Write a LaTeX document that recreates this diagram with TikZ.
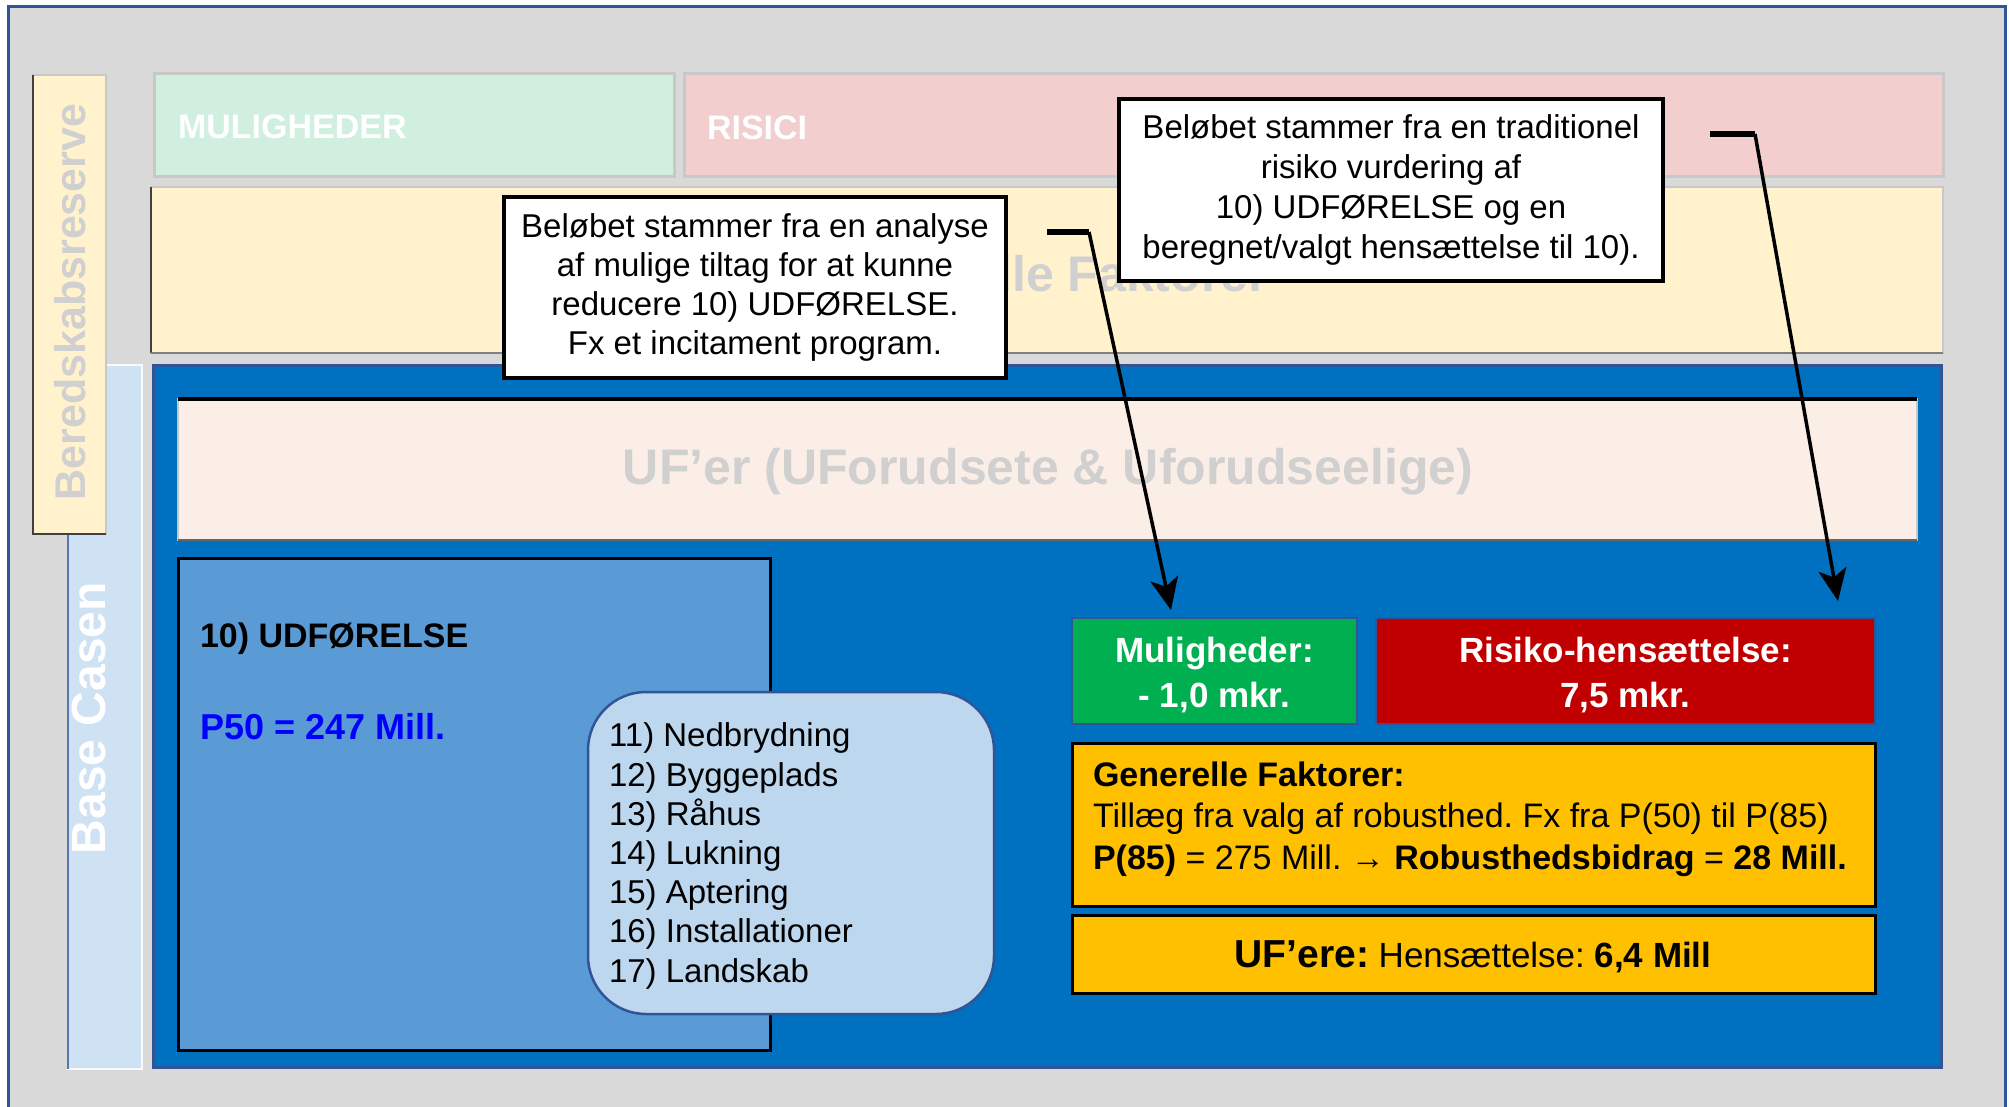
\documentclass[tikz,border=0pt]{standalone}
\usepackage{fontspec}
\setmainfont{Liberation Sans}
\usetikzlibrary{arrows.meta}
\frenchspacing
\definecolor{bggray}{HTML}{D9D9D9}
\definecolor{frameblue}{HTML}{2F5597}
\definecolor{lightyellow}{HTML}{FFF2CC}
\definecolor{lightblue}{HTML}{CFE2F3}
\definecolor{lightgreen}{HTML}{D0EFDF}
\definecolor{lightpink}{HTML}{F2CECE}
\definecolor{mainblue}{HTML}{0070C0}
\definecolor{peach}{HTML}{FBEEE6}
\definecolor{midblue}{HTML}{5B9BD5}
\definecolor{paleblue}{HTML}{BDD7EE}
\definecolor{okgreen}{HTML}{00B050}
\definecolor{riskred}{HTML}{C00000}
\definecolor{amber}{HTML}{FFC000}
\definecolor{ghost}{HTML}{D0D0D0}
\definecolor{edgegray}{HTML}{C8C8C8}
\definecolor{pblue}{HTML}{0000FF}
\begin{document}
\frenchspacing
\begin{tikzpicture}[x=1pt,y=-1pt,
  box/.style={rectangle, inner sep=0pt, outer sep=0pt},
  lbl/.style={inner sep=0pt, outer sep=0pt},
  softbox/.style={box, draw=edgegray, line width=3pt},
  darkedge/.style={line width=2pt, draw=black!75},
  callout/.style={box, fill=white, draw=black, line width=4.5pt},
  conn/.style={line width=3.5pt, draw=black, -{Stealth[length=32pt,width=28pt,inset=8pt]}},
  connstart/.style={line width=5.5pt, draw=black},
  bigghost/.style={lbl, text=ghost, font=\fontsize{50}{60}\selectfont\bfseries},
  whitelbl/.style={lbl, align=center, text=white, font=\fontsize{35}{45}\selectfont\bfseries}
]
\useasboundingbox (0,0) rectangle (2009,1107);
\fill[white] (0,0) rectangle (2009,1107);
% outer frame
\node[box, fill=bggray, draw=frameblue, line width=3pt, minimum width=1997pt, minimum height=1120pt, anchor=north west] (frame) at (8,7) {};

% Base Casen strip (behind the Beredskabsreserve strip)
\node[box, fill=lightblue, draw=white!85!lightblue, line width=1.5pt, minimum width=74pt, minimum height=704pt] (base) at (105,717) {};
\draw[line width=2pt, draw=frameblue!80] (base.north west) -- (base.south west);
\node[lbl, rotate=90, text=white, font=\fontsize{48}{56}\selectfont\bfseries] (basetxt) at (89,718) {Base Casen};

% Beredskabsreserve strip
\node[box, fill=lightyellow, draw=edgegray, line width=1.5pt, minimum width=73pt, minimum height=459pt] (bered) at (69.5,304.5) {};
\draw[darkedge] (bered.north west) -- (bered.south west) -- (bered.south east);
\node[lbl, rotate=90, text=ghost, font=\fontsize{43}{50}\selectfont\bfseries] (beredtxt) at (70,302) {Beredskabsreserve};

% top strips
\node[softbox, fill=lightgreen, minimum width=520pt, minimum height=103pt] (mulig) at (414,125.5) {};
\node[lbl, anchor=west, text=white, font=\fontsize{34}{40}\selectfont\bfseries] (muligtxt) at (178,127) {MULIGHEDER};
\node[softbox, fill=lightpink, minimum width=1259pt, minimum height=103pt] (risici) at (1313.5,125.5) {};
\node[lbl, anchor=west, text=white, font=\fontsize{34}{40}\selectfont\bfseries] (risicitxt) at (707,128) {RISICI};

% Generelle Faktorer background strip
\node[box, fill=lightyellow, draw=edgegray, line width=1.5pt, minimum width=1792pt, minimum height=166pt] (genfak) at (1047,270) {};
\draw[darkedge] (genfak.north west) -- (genfak.south west);
\draw[line width=2pt, draw=gray] (genfak.south west) -- (genfak.south east);
\node[bigghost] (genfaktxt) at (1047,274) {Generelle Faktorer};

% main blue area
\node[box, fill=mainblue, draw=frameblue, line width=3pt, minimum width=1788pt, minimum height=702pt] (main) at (1047,716) {};

% UF'er strip
\node[box, fill=peach, draw=edgegray, line width=1.5pt, minimum width=1739pt, minimum height=141pt] (ufer) at (1047.5,469.5) {};
\draw[line width=3.5pt, draw=black] (ufer.north west) -- (ufer.north east);
\draw[line width=2.5pt, draw=black!60] (ufer.south west) -- (ufer.south east);
\node[bigghost] (ufertxt) at (1048,472) {UF’er (UForudsete \& Uforudseelige)};

% 10) UDFORELSE
\node[box, fill=midblue, draw=black, line width=3pt, minimum width=592pt, minimum height=492pt] (udf) at (474,804) {};
\node[lbl, anchor=west, font=\fontsize{34}{40}\selectfont\bfseries] (udftxt) at (200,639) {10) UDFØRELSE};
\node[lbl, anchor=west, text=pblue, font=\fontsize{36}{42}\selectfont\bfseries] (p50) at (200,727) {P50 = 247 Mill.};

% list box
\node[box, fill=paleblue, draw=frameblue, line width=2.5pt, rounded corners=58pt, minimum width=406pt, minimum height=322pt] (list) at (791,853) {};
\node[lbl, anchor=west, align=left, font=\fontsize{33}{39.2}\selectfont] (listtxt) at (609,856) {11) Nedbrydning\\12) Byggeplads\\13) Råhus\\14) Lukning\\15) Aptering\\16) Installationer\\17) Landskab};

% right-hand boxes
\node[box, fill=okgreen, draw=frameblue, line width=2pt, minimum width=285pt, minimum height=106pt] (green) at (1214.5,671) {};
\node[whitelbl] (greentxt) at (1214.5,675) {Muligheder:\\- 1,0 mkr.};
\node[box, fill=riskred, draw=frameblue, line width=2pt, minimum width=499pt, minimum height=106pt] (red) at (1625.5,671) {};
\node[whitelbl] (redtxt) at (1625.5,675) {Risiko-hensættelse:\\7,5 mkr.};
\node[box, fill=amber, draw=black, line width=3pt, minimum width=803pt, minimum height=163pt] (gen) at (1473.5,824.5) {};
\node[lbl, anchor=west, align=left, font=\fontsize{34}{41.5}\selectfont] (gentxt) at (1093,819) {\textbf{Generelle Faktorer:}\\Tillæg fra valg af robusthed. Fx fra P(50) til P(85)\\\textbf{P(85)} = 275 Mill. → \textbf{Robusthedsbidrag} = \textbf{28 Mill.}};
\node[box, fill=amber, draw=black, line width=3pt, minimum width=803pt, minimum height=78pt] (ufere) at (1473.5,954) {};
\node[lbl, font=\fontsize{35}{42}\selectfont] (ueretxt) at (1473,957) {{\fontsize{39}{44}\selectfont\bfseries UF’ere:} Hensættelse: \textbf{6,4 Mill}};

% callouts
\node[callout, minimum width=502pt, minimum height=181pt, align=center, font=\fontsize{33}{39.3}\selectfont] (call1) at (755,287.5) {Beløbet stammer fra en analyse\\af mulige tiltag for at kunne\\reducere 10) UDFØRELSE.\\Fx et incitament program.};
\node[callout, minimum width=544pt, minimum height=182pt, align=center, font=\fontsize{33}{40}\selectfont] (call2) at (1391,190) {Beløbet stammer fra en traditionel\\risiko vurdering af\\10) UDFØRELSE og en\\beregnet/valgt hensættelse til 10).};

% connectors
\coordinate (c1s) at (1047,232);
\coordinate (c1b) at (1089,232);
\coordinate (c1t) at (1171,610);
\coordinate (c2s) at (1710,134);
\coordinate (c2b) at (1755,134);
\coordinate (c2t) at (1838,601);
\draw[connstart] (c1s) -- (c1b);
\draw[conn] (c1b) -- (c1t);
\draw[connstart] (c2s) -- (c2b);
\draw[conn] (c2b) -- (c2t);
\end{tikzpicture}
\end{document}
